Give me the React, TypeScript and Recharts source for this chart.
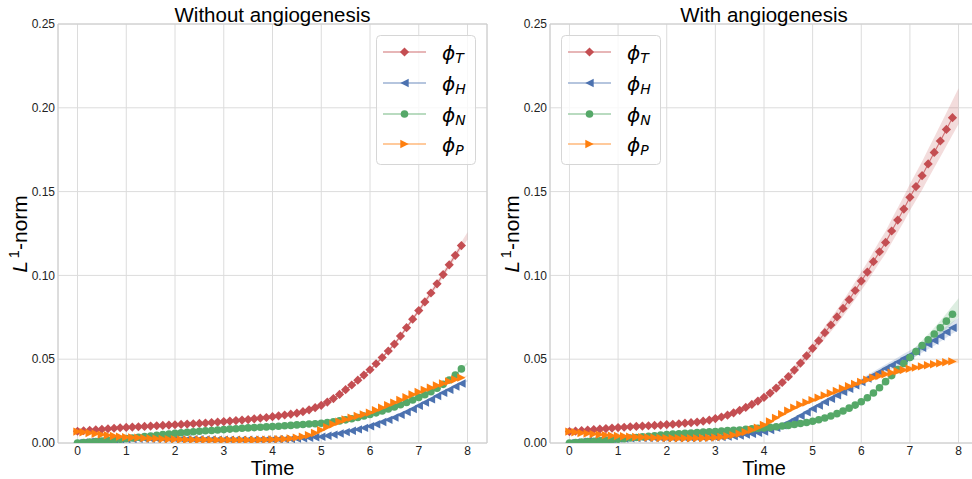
import React from 'react';
import { ComposedChart, Line, Area, XAxis, YAxis, CartesianGrid, ReferenceLine, Legend } from 'recharts';

// Sample times (step 1/8). The last entry (t = 8) only closes the shaded bands.
const TIME = [
  0, 0.125, 0.25, 0.375, 0.5, 0.625, 0.75, 0.875,
  1, 1.125, 1.25, 1.375, 1.5, 1.625, 1.75, 1.875,
  2, 2.125, 2.25, 2.375, 2.5, 2.625, 2.75, 2.875,
  3, 3.125, 3.25, 3.375, 3.5, 3.625, 3.75, 3.875,
  4, 4.125, 4.25, 4.375, 4.5, 4.625, 4.75, 4.875,
  5, 5.125, 5.25, 5.375, 5.5, 5.625, 5.75, 5.875,
  6, 6.125, 6.25, 6.375, 6.5, 6.625, 6.75, 6.875,
  7, 7.125, 7.25, 7.375, 7.5, 7.625, 7.75, 7.875,
  8,
];
const X_TICKS = [0, 1, 2, 3, 4, 5, 6, 7, 8];
const Y_TICKS = [0, 0.05, 0.1, 0.15, 0.2, 0.25];

// ---- Without angiogenesis: mean L1-norms ----
const NOANG_T = [
  0.0070, 0.0073, 0.0076, 0.0079, 0.0082, 0.0085, 0.0088, 0.0091,
  0.0093, 0.0095, 0.0097, 0.0099, 0.0101, 0.0103, 0.0105, 0.0107,
  0.0109, 0.0111, 0.0113, 0.0115, 0.0117, 0.0119, 0.0122, 0.0125,
  0.0128, 0.0131, 0.0134, 0.0137, 0.0140, 0.0144, 0.0148, 0.0152,
  0.0157, 0.0162, 0.0167, 0.0172, 0.0178, 0.0187, 0.0198, 0.0211,
  0.0225, 0.0244, 0.0265, 0.0290, 0.0318, 0.0346, 0.0375, 0.0405,
  0.0437, 0.0473, 0.0510, 0.0549, 0.0590, 0.0638, 0.0688, 0.0739,
  0.0790, 0.0842, 0.0895, 0.0950, 0.1005, 0.1063, 0.1120, 0.1178,
  0.1236,
];
const NOANG_H = [
  0.0000, 0.0004, 0.0008, 0.0012, 0.0015, 0.0018, 0.0020, 0.0022,
  0.0023, 0.0024, 0.0025, 0.0025, 0.0025, 0.0025, 0.0025, 0.0024,
  0.0024, 0.0023, 0.0023, 0.0022, 0.0022, 0.0021, 0.0021, 0.0020,
  0.0020, 0.0020, 0.0020, 0.0020, 0.0020, 0.0020, 0.0020, 0.0021,
  0.0021, 0.0022, 0.0023, 0.0024, 0.0026, 0.0028, 0.0031, 0.0034,
  0.0037, 0.0043, 0.0050, 0.0057, 0.0065, 0.0073, 0.0081, 0.0090,
  0.0100, 0.0112, 0.0125, 0.0138, 0.0152, 0.0168, 0.0185, 0.0203,
  0.0222, 0.0241, 0.0260, 0.0280, 0.0300, 0.0318, 0.0337, 0.0355,
  0.0372,
];
const NOANG_N = [
  0.0000, 0.0003, 0.0006, 0.0009, 0.0012, 0.0015, 0.0019, 0.0022,
  0.0026, 0.0030, 0.0034, 0.0038, 0.0042, 0.0046, 0.0050, 0.0054,
  0.0058, 0.0061, 0.0064, 0.0067, 0.0070, 0.0073, 0.0075, 0.0078,
  0.0080, 0.0083, 0.0085, 0.0088, 0.0090, 0.0092, 0.0094, 0.0096,
  0.0098, 0.0100, 0.0103, 0.0105, 0.0108, 0.0110, 0.0113, 0.0115,
  0.0118, 0.0122, 0.0127, 0.0132, 0.0138, 0.0145, 0.0152, 0.0161,
  0.0170, 0.0180, 0.0191, 0.0203, 0.0215, 0.0228, 0.0242, 0.0257,
  0.0272, 0.0288, 0.0306, 0.0327, 0.0350, 0.0376, 0.0406, 0.0442,
  0.0475,
];
const NOANG_P = [
  0.0068, 0.0064, 0.0060, 0.0055, 0.0050, 0.0046, 0.0042, 0.0038,
  0.0035, 0.0033, 0.0031, 0.0029, 0.0027, 0.0026, 0.0024, 0.0023,
  0.0022, 0.0021, 0.0020, 0.0020, 0.0019, 0.0019, 0.0018, 0.0018,
  0.0018, 0.0018, 0.0018, 0.0018, 0.0018, 0.0018, 0.0019, 0.0020,
  0.0021, 0.0022, 0.0024, 0.0027, 0.0032, 0.0038, 0.0047, 0.0060,
  0.0077, 0.0095, 0.0112, 0.0127, 0.0140, 0.0151, 0.0161, 0.0171,
  0.0181, 0.0196, 0.0211, 0.0226, 0.0241, 0.0257, 0.0273, 0.0289,
  0.0304, 0.0317, 0.0330, 0.0343, 0.0355, 0.0367, 0.0379, 0.0390,
  0.0401,
];

// ---- Without angiogenesis: half-widths of the spread bands ----
const NOANG_T_SPREAD = [
  0.0002, 0.0002, 0.0002, 0.0002, 0.0002, 0.0002, 0.0002, 0.0002,
  0.0002, 0.0002, 0.0002, 0.0002, 0.0002, 0.0002, 0.0002, 0.0002,
  0.0002, 0.0002, 0.0002, 0.0002, 0.0002, 0.0002, 0.0002, 0.0002,
  0.0003, 0.0003, 0.0003, 0.0003, 0.0003, 0.0003, 0.0003, 0.0003,
  0.0003, 0.0003, 0.0003, 0.0003, 0.0003, 0.0004, 0.0004, 0.0004,
  0.0004, 0.0005, 0.0005, 0.0005, 0.0006, 0.0006, 0.0007, 0.0007,
  0.0008, 0.0008, 0.0009, 0.0009, 0.0010, 0.0011, 0.0012, 0.0013,
  0.0014, 0.0015, 0.0016, 0.0017, 0.0018, 0.0019, 0.0020, 0.0021,
  0.0022,
];
const NOANG_H_SPREAD = [
  0.0001, 0.0001, 0.0001, 0.0001, 0.0001, 0.0001, 0.0001, 0.0001,
  0.0001, 0.0001, 0.0001, 0.0001, 0.0001, 0.0001, 0.0001, 0.0001,
  0.0001, 0.0001, 0.0001, 0.0001, 0.0001, 0.0001, 0.0001, 0.0001,
  0.0001, 0.0001, 0.0001, 0.0001, 0.0001, 0.0001, 0.0001, 0.0001,
  0.0001, 0.0001, 0.0001, 0.0001, 0.0001, 0.0001, 0.0001, 0.0001,
  0.0002, 0.0002, 0.0002, 0.0002, 0.0002, 0.0002, 0.0002, 0.0002,
  0.0003, 0.0003, 0.0003, 0.0003, 0.0003, 0.0003, 0.0003, 0.0003,
  0.0004, 0.0004, 0.0004, 0.0004, 0.0004, 0.0004, 0.0004, 0.0004,
  0.0005,
];
const NOANG_N_SPREAD = [
  0.0001, 0.0001, 0.0001, 0.0001, 0.0001, 0.0001, 0.0001, 0.0001,
  0.0001, 0.0001, 0.0001, 0.0001, 0.0001, 0.0001, 0.0001, 0.0001,
  0.0001, 0.0001, 0.0001, 0.0001, 0.0001, 0.0001, 0.0001, 0.0001,
  0.0001, 0.0001, 0.0001, 0.0001, 0.0001, 0.0001, 0.0001, 0.0001,
  0.0001, 0.0001, 0.0001, 0.0001, 0.0001, 0.0001, 0.0001, 0.0001,
  0.0001, 0.0001, 0.0001, 0.0001, 0.0001, 0.0001, 0.0001, 0.0001,
  0.0002, 0.0002, 0.0002, 0.0002, 0.0002, 0.0002, 0.0002, 0.0002,
  0.0003, 0.0003, 0.0003, 0.0004, 0.0004, 0.0005, 0.0005, 0.0006,
  0.0007,
];
const NOANG_P_SPREAD = [
  0.0001, 0.0001, 0.0001, 0.0001, 0.0001, 0.0001, 0.0001, 0.0001,
  0.0001, 0.0001, 0.0001, 0.0001, 0.0001, 0.0001, 0.0001, 0.0001,
  0.0001, 0.0001, 0.0001, 0.0001, 0.0001, 0.0001, 0.0001, 0.0001,
  0.0001, 0.0001, 0.0001, 0.0001, 0.0001, 0.0001, 0.0001, 0.0001,
  0.0001, 0.0001, 0.0001, 0.0001, 0.0001, 0.0001, 0.0001, 0.0001,
  0.0002, 0.0002, 0.0002, 0.0002, 0.0002, 0.0002, 0.0002, 0.0002,
  0.0002, 0.0002, 0.0002, 0.0002, 0.0002, 0.0002, 0.0002, 0.0002,
  0.0003, 0.0003, 0.0003, 0.0003, 0.0003, 0.0003, 0.0003, 0.0003,
  0.0003,
];

// ---- With angiogenesis: mean L1-norms ----
const ANG_T = [
  0.0068, 0.0071, 0.0074, 0.0077, 0.0080, 0.0083, 0.0086, 0.0089,
  0.0092, 0.0094, 0.0097, 0.0099, 0.0101, 0.0103, 0.0105, 0.0107,
  0.0110, 0.0112, 0.0115, 0.0118, 0.0121, 0.0125, 0.0130, 0.0137,
  0.0146, 0.0155, 0.0166, 0.0180, 0.0195, 0.0212, 0.0230, 0.0250,
  0.0272, 0.0298, 0.0328, 0.0361, 0.0396, 0.0435, 0.0477, 0.0520,
  0.0565, 0.0610, 0.0658, 0.0704, 0.0752, 0.0803, 0.0855, 0.0910,
  0.0966, 0.1020, 0.1082, 0.1141, 0.1197, 0.1265, 0.1330, 0.1396,
  0.1466, 0.1530, 0.1595, 0.1665, 0.1734, 0.1802, 0.1871, 0.1941,
  0.2010,
];
const ANG_H = [
  0.0000, 0.0004, 0.0008, 0.0012, 0.0015, 0.0018, 0.0021, 0.0024,
  0.0026, 0.0027, 0.0028, 0.0029, 0.0030, 0.0030, 0.0030, 0.0030,
  0.0030, 0.0030, 0.0030, 0.0030, 0.0030, 0.0031, 0.0032, 0.0033,
  0.0034, 0.0036, 0.0038, 0.0041, 0.0045, 0.0050, 0.0055, 0.0061,
  0.0068, 0.0078, 0.0090, 0.0105, 0.0122, 0.0142, 0.0162, 0.0183,
  0.0204, 0.0224, 0.0245, 0.0264, 0.0284, 0.0305, 0.0324, 0.0344,
  0.0364, 0.0385, 0.0404, 0.0424, 0.0445, 0.0464, 0.0484, 0.0505,
  0.0524, 0.0546, 0.0568, 0.0590, 0.0612, 0.0637, 0.0662, 0.0688,
  0.0710,
];
const ANG_N = [
  0.0000, 0.0003, 0.0005, 0.0008, 0.0010, 0.0013, 0.0016, 0.0019,
  0.0023, 0.0026, 0.0030, 0.0033, 0.0037, 0.0040, 0.0043, 0.0047,
  0.0050, 0.0053, 0.0055, 0.0058, 0.0060, 0.0062, 0.0065, 0.0067,
  0.0069, 0.0071, 0.0074, 0.0076, 0.0078, 0.0081, 0.0084, 0.0087,
  0.0090, 0.0093, 0.0097, 0.0101, 0.0105, 0.0110, 0.0116, 0.0122,
  0.0130, 0.0139, 0.0149, 0.0161, 0.0175, 0.0191, 0.0208, 0.0226,
  0.0246, 0.0270, 0.0298, 0.0330, 0.0366, 0.0402, 0.0438, 0.0474,
  0.0510, 0.0546, 0.0582, 0.0616, 0.0650, 0.0688, 0.0727, 0.0768,
  0.0808,
];
const ANG_P = [
  0.0068, 0.0064, 0.0060, 0.0056, 0.0053, 0.0050, 0.0047, 0.0044,
  0.0042, 0.0040, 0.0038, 0.0036, 0.0034, 0.0033, 0.0031, 0.0030,
  0.0029, 0.0028, 0.0028, 0.0028, 0.0028, 0.0029, 0.0030, 0.0031,
  0.0033, 0.0036, 0.0040, 0.0047, 0.0055, 0.0065, 0.0078, 0.0092,
  0.0108, 0.0128, 0.0150, 0.0172, 0.0192, 0.0211, 0.0228, 0.0242,
  0.0256, 0.0270, 0.0284, 0.0297, 0.0311, 0.0325, 0.0339, 0.0352,
  0.0365, 0.0377, 0.0389, 0.0400, 0.0410, 0.0419, 0.0428, 0.0436,
  0.0443, 0.0450, 0.0457, 0.0464, 0.0470, 0.0476, 0.0482, 0.0487,
  0.0490,
];

// ---- With angiogenesis: half-widths of the spread bands ----
const ANG_T_SPREAD = [
  0.0004, 0.0004, 0.0004, 0.0004, 0.0004, 0.0004, 0.0004, 0.0004,
  0.0005, 0.0005, 0.0005, 0.0005, 0.0005, 0.0005, 0.0005, 0.0005,
  0.0005, 0.0005, 0.0006, 0.0006, 0.0006, 0.0006, 0.0007, 0.0007,
  0.0007, 0.0008, 0.0008, 0.0009, 0.0010, 0.0011, 0.0012, 0.0013,
  0.0014, 0.0016, 0.0018, 0.0020, 0.0022, 0.0024, 0.0026, 0.0028,
  0.0031, 0.0034, 0.0037, 0.0040, 0.0043, 0.0046, 0.0049, 0.0052,
  0.0055, 0.0058, 0.0061, 0.0064, 0.0067, 0.0070, 0.0073, 0.0076,
  0.0079, 0.0082, 0.0085, 0.0088, 0.0091, 0.0095, 0.0099, 0.0103,
  0.0107,
];
const ANG_H_SPREAD = [
  0.0002, 0.0002, 0.0002, 0.0002, 0.0002, 0.0002, 0.0002, 0.0002,
  0.0003, 0.0003, 0.0003, 0.0003, 0.0003, 0.0003, 0.0003, 0.0003,
  0.0003, 0.0003, 0.0003, 0.0003, 0.0003, 0.0003, 0.0003, 0.0003,
  0.0003, 0.0003, 0.0003, 0.0004, 0.0004, 0.0004, 0.0004, 0.0004,
  0.0004, 0.0005, 0.0006, 0.0007, 0.0008, 0.0009, 0.0010, 0.0011,
  0.0012, 0.0013, 0.0014, 0.0015, 0.0016, 0.0017, 0.0018, 0.0019,
  0.0020, 0.0021, 0.0022, 0.0023, 0.0024, 0.0025, 0.0026, 0.0027,
  0.0028, 0.0029, 0.0030, 0.0031, 0.0032, 0.0033, 0.0034, 0.0035,
  0.0037,
];
const ANG_N_SPREAD = [
  0.0001, 0.0001, 0.0001, 0.0001, 0.0001, 0.0001, 0.0001, 0.0001,
  0.0002, 0.0002, 0.0002, 0.0002, 0.0002, 0.0002, 0.0002, 0.0002,
  0.0002, 0.0002, 0.0002, 0.0002, 0.0002, 0.0002, 0.0002, 0.0002,
  0.0003, 0.0003, 0.0003, 0.0003, 0.0003, 0.0003, 0.0003, 0.0003,
  0.0003, 0.0003, 0.0003, 0.0003, 0.0004, 0.0004, 0.0004, 0.0004,
  0.0005, 0.0005, 0.0006, 0.0006, 0.0007, 0.0007, 0.0008, 0.0009,
  0.0010, 0.0011, 0.0012, 0.0014, 0.0016, 0.0018, 0.0020, 0.0022,
  0.0024, 0.0027, 0.0030, 0.0033, 0.0037, 0.0041, 0.0046, 0.0051,
  0.0056,
];
const ANG_P_SPREAD = [
  0.0002, 0.0002, 0.0002, 0.0002, 0.0002, 0.0002, 0.0002, 0.0002,
  0.0002, 0.0002, 0.0002, 0.0002, 0.0002, 0.0002, 0.0002, 0.0002,
  0.0002, 0.0002, 0.0002, 0.0002, 0.0002, 0.0002, 0.0002, 0.0002,
  0.0002, 0.0002, 0.0002, 0.0003, 0.0003, 0.0003, 0.0003, 0.0004,
  0.0004, 0.0005, 0.0005, 0.0006, 0.0006, 0.0007, 0.0007, 0.0008,
  0.0008, 0.0009, 0.0009, 0.0010, 0.0010, 0.0010, 0.0011, 0.0011,
  0.0011, 0.0011, 0.0012, 0.0012, 0.0012, 0.0012, 0.0012, 0.0013,
  0.0013, 0.0013, 0.0013, 0.0013, 0.0013, 0.0013, 0.0013, 0.0013,
  0.0013,
];

const SERIES_KEYS = ['T', 'H', 'N', 'P'];
const SERIES_SUBSCRIPTS = ['T', 'H', 'N', 'P'];
const SERIES_COLORS = ['#C44E52', '#4C72B0', '#55A868', '#FF7F0E'];
const SERIES_MARKERS = ['diamond', 'triangleLeft', 'circle', 'triangleRight'];
const LAST_MARKED = 63; // markers and lines stop at t = 7.875

const FONT = '"Liberation Sans", Arial, Helvetica, sans-serif';
const MATH_FONT = '"DejaVu Sans", sans-serif';

type PanelSpec = {
  title: string;
  means: number[][];
  spreads: number[][];
  legendLeft: number;
  left: number;
  marginLeft: number;
  marginRight: number;
};

const PANELS: PanelSpec[] = [
  {
    title: 'Without angiogenesis',
    means: [NOANG_T, NOANG_H, NOANG_N, NOANG_P],
    spreads: [NOANG_T_SPREAD, NOANG_H_SPREAD, NOANG_N_SPREAD, NOANG_P_SPREAD],
    legendLeft: 376,
    left: 0,
    marginLeft: 8,
    marginRight: 3,
  },
  {
    title: 'With angiogenesis',
    means: [ANG_T, ANG_H, ANG_N, ANG_P],
    spreads: [ANG_T_SPREAD, ANG_H_SPREAD, ANG_N_SPREAD, ANG_P_SPREAD],
    legendLeft: 71,
    left: 490,
    marginLeft: 10,
    marginRight: 2,
  },
];

function buildRows(p: PanelSpec) {
  return TIME.map((t, i) => {
    const row: Record<string, any> = { t };
    SERIES_KEYS.forEach((k, s) => {
      const m = p.means[s][i];
      const d = p.spreads[s][i];
      row[k] = i <= LAST_MARKED ? m : null;
      row[k + 'band'] = [m - d, m + d];
    });
    return row;
  });
}

function markerPath(shape: string, cx: number, cy: number): string {
  if (shape === 'diamond') {
    const r = 4.6;
    return `M${cx},${cy - r}L${cx + r},${cy}L${cx},${cy + r}L${cx - r},${cy}Z`;
  }
  const h = 4.2;
  if (shape === 'triangleLeft') {
    return `M${cx - h},${cy}L${cx + h},${cy - h}L${cx + h},${cy + h}Z`;
  }
  return `M${cx + h},${cy}L${cx - h},${cy - h}L${cx - h},${cy + h}Z`;
}

function Marker({ shape, cx, cy, color }: { shape: string; cx: number; cy: number; color: string }) {
  if (shape === 'circle') return <circle cx={cx} cy={cy} r={3.8} fill={color} />;
  return <path d={markerPath(shape, cx, cy)} fill={color} />;
}

function makeDot(shape: string, color: string) {
  return (props: any) => {
    const { cx, cy, index } = props;
    if (cx == null || cy == null || Number.isNaN(cy)) return <g key={`e${index}`} />;
    return <Marker key={`m${index}`} shape={shape} cx={cx} cy={cy} color={color} />;
  };
}

function LegendBox() {
  const rows = [17, 48, 79, 109];
  return (
    <svg width={100} height={130} style={{ display: 'block', overflow: 'visible' }}>
      <rect x={0.5} y={0.5} width={99} height={129} rx={4} ry={4} fill="rgba(255,255,255,0.8)" stroke="#d6d6d6" strokeWidth={1} />
      {SERIES_KEYS.map((k, s) => {
        const cy = rows[s];
        return (
          <g key={k}>
            <line x1={7} x2={50} y1={cy} y2={cy} stroke={SERIES_COLORS[s]} strokeOpacity={0.55} strokeWidth={1.5} />
            <Marker shape={SERIES_MARKERS[s]} cx={28.5} cy={cy} color={SERIES_COLORS[s]} />
            <text x={66} y={cy + 7.5} fontFamily={MATH_FONT} fontStyle="italic" fontSize={20} fill="#000">
              ϕ
              <tspan fontSize={14} dy={3.5}>{SERIES_SUBSCRIPTS[s]}</tspan>
            </text>
          </g>
        );
      })}
    </svg>
  );
}

function YLabel({ x }: { x: number }) {
  return (
    <text x={x} y={234} transform={`rotate(-90 ${x} 234)`} textAnchor="middle" fontFamily={FONT} fontSize={21} fill="#000">
      <tspan fontStyle="italic">L</tspan>
      <tspan fontSize={14.5} dy={-8} dx={3}>1</tspan>
      <tspan dy={8}>-norm</tspan>
    </text>
  );
}

function Panel({ spec }: { spec: PanelSpec }) {
  const rows = buildRows(spec);
  const chartWidth = 490;
  const plotLeft = spec.marginLeft + 50;
  const plotRight = chartWidth - spec.marginRight;
  const centerX = (plotLeft + plotRight) / 2;
  return (
    <div style={{ position: 'absolute', left: spec.left, top: 0, width: chartWidth, height: 479 }}>
      <ComposedChart
        width={chartWidth}
        height={479}
        data={rows}
        margin={{ top: 24, right: spec.marginRight, bottom: 0, left: spec.marginLeft }}
      >
        <CartesianGrid stroke="#dcdcdc" strokeWidth={1} />
        <XAxis
          dataKey="t"
          type="number"
          domain={[-0.4, 8.4]}
          ticks={X_TICKS}
          allowDataOverflow
          height={36}
          tickLine={false}
          tickSize={0}
          tickMargin={3}
          axisLine={{ stroke: '#cccccc' }}
          tick={{ fill: '#222', fontSize: 12, fontFamily: FONT }}
          label={{
            content: () => (
              <text x={centerX} y={475} textAnchor="middle" fontFamily={FONT} fontSize={20} fill="#000">
                Time
              </text>
            ),
          }}
        />
        <YAxis
          type="number"
          domain={[0, 0.25]}
          ticks={Y_TICKS}
          allowDataOverflow
          width={50}
          tickLine={false}
          tickSize={0}
          tickMargin={3}
          axisLine={{ stroke: '#cccccc' }}
          tickFormatter={(v: number) => v.toFixed(2)}
          tick={{ fill: '#222', fontSize: 12, fontFamily: FONT }}
          label={{ content: () => <YLabel x={spec.marginLeft + 19} /> }}
        />
        <ReferenceLine y={0.25} stroke="#cccccc" ifOverflow="visible" />
        <ReferenceLine x={8.4} stroke="#cccccc" ifOverflow="visible" />
        {SERIES_KEYS.map((k, s) => (
          <Area
            key={`band-${k}`}
            dataKey={`${k}band`}
            type="linear"
            stroke="none"
            fill={SERIES_COLORS[s]}
            fillOpacity={0.2}
            isAnimationActive={false}
            activeDot={false}
            legendType="none"
          />
        ))}
        {SERIES_KEYS.map((k, s) => (
          <Line
            key={`line-${k}`}
            dataKey={k}
            type="linear"
            stroke={SERIES_COLORS[s]}
            strokeOpacity={0.75}
            strokeWidth={1.1}
            dot={makeDot(SERIES_MARKERS[s], SERIES_COLORS[s])}
            activeDot={false}
            connectNulls={false}
            isAnimationActive={false}
          />
        ))}
        <Legend
          layout="vertical"
          align="center"
          verticalAlign="middle"
          content={() => <LegendBox />}
          wrapperStyle={{ left: spec.legendLeft, top: 35, width: 100, height: 130, bottom: 'auto', right: 'auto' }}
        />
      </ComposedChart>
      <div
        style={{
          position: 'absolute',
          left: centerX - 150,
          width: 300,
          top: 3,
          textAlign: 'center',
          fontFamily: FONT,
          fontSize: 20.5,
          lineHeight: '24px',
          color: '#000',
          whiteSpace: 'nowrap',
        }}
      >
        {spec.title}
      </div>
    </div>
  );
}

export default function App() {
  return (
    <div
      style={{
        position: 'absolute',
        left: 0,
        top: 0,
        width: 972,
        height: 479,
        overflow: 'hidden',
        background: '#fff',
      }}
    >
      {PANELS.map((p) => (
        <Panel key={p.title} spec={p} />
      ))}
    </div>
  );
}
